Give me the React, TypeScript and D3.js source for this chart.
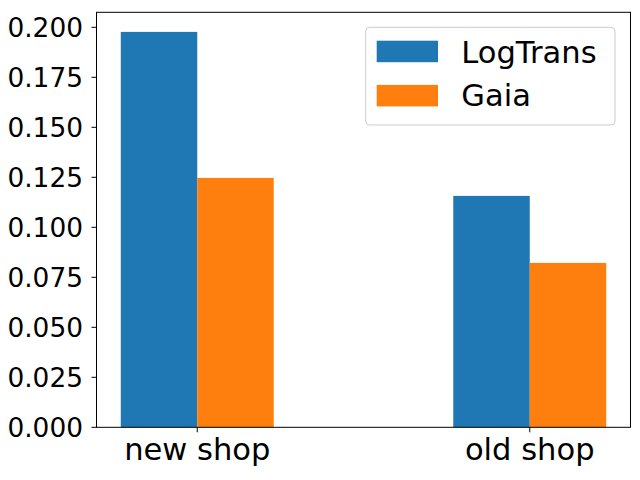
import React from "react";
import * as d3 from "d3";

const categories = ["new shop", "old shop"];
const seriesNames = ["LogTrans", "Gaia"];
const logTransValues = [0.1977, 0.1157];
const gaiaValues = [0.1247, 0.0822];
const yTicks = [0, 0.025, 0.05, 0.075, 0.1, 0.125, 0.15, 0.175, 0.2];
const colors = ["#1f77b4", "#ff7f0e"];

export default function App() {
  const W = 640, H = 480;
  const left = 96.5, right = 630.5, top = 12.3, bottom = 427.3;
  const barW = 0.23;
  const x = d3.scaleLinear().domain([-0.303, 1.303]).range([left, right]);
  const y = d3.scaleLinear().domain([0, 0.2075]).range([bottom, top]);
  const series = [logTransValues, gaiaValues];
  const font = "'DejaVu Sans', sans-serif";
  const fsY = 26.4;
  const fsX = 30.56;

  return (
    <svg width={W} height={H} style={{ position: "absolute", left: 0, top: 0 }} fontFamily={font}>
      <rect width={W} height={H} fill="white" />
      {series.map((vals, si) =>
        vals.map((v, ci) => {
          const x0 = si === 0 ? x(ci - barW) : x(ci);
          const x1 = si === 0 ? x(ci) : x(ci + barW);
          return (
            <rect key={`${si}-${ci}`} x={x0} y={y(v)} width={x1 - x0} height={y(0) - y(v)} fill={colors[si]} />
          );
        })
      )}
      <rect x={left} y={top} width={right - left} height={bottom - top} fill="none" stroke="black" strokeWidth={1} />
      {yTicks.map((t) => (
        <g key={t}>
          <line x1={left - 5} x2={left} y1={y(t)} y2={y(t)} stroke="black" strokeWidth={1} />
          <text x={83} y={y(t)} dy="0.36em" textAnchor="end" fontSize={fsY} fill="black">
            {t.toFixed(3)}
          </text>
        </g>
      ))}
      {categories.map((c, i) => (
        <g key={c}>
          <line x1={x(i)} x2={x(i)} y1={bottom} y2={bottom + 5} stroke="black" strokeWidth={1} />
          <text x={x(i)} y={460} textAnchor="middle" fontSize={fsX} fill="black">
            {c}
          </text>
        </g>
      ))}
      <g>
        <rect x={365.7} y={27.3} width={249.3} height={97.7} rx={4} fill="white" fillOpacity={0.8} stroke="#cccccc" strokeWidth={1} />
        {seriesNames.map((n, i) => (
          <g key={n}>
            <rect x={376.7} y={40.7 + i * 44.2} width={61.3} height={21.5} fill={colors[i]} />
            <text x={461.3} y={62.7 + i * 43.5} fontSize={fsX} fill="black">
              {n}
            </text>
          </g>
        ))}
      </g>
    </svg>
  );
}
